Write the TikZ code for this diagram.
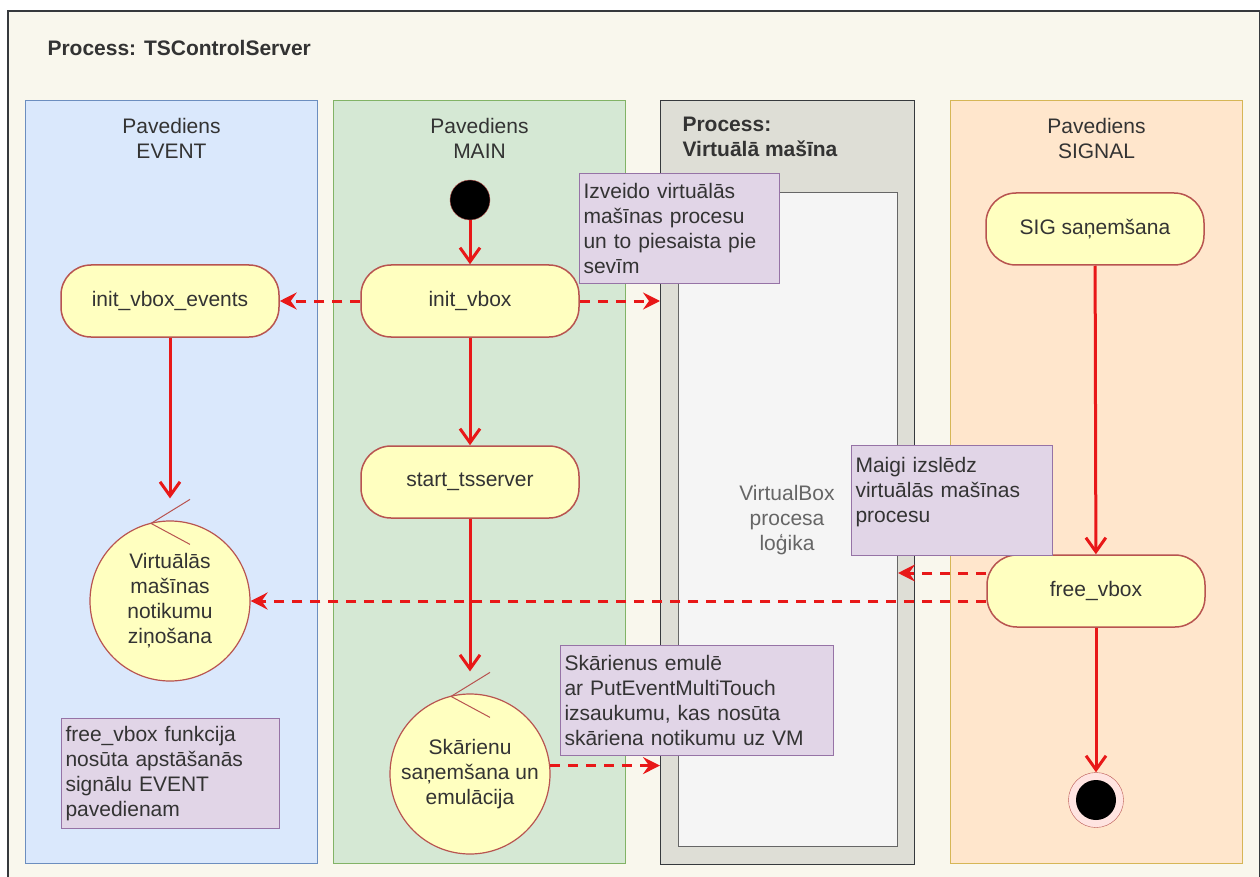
\documentclass[tikz,border=0pt]{standalone}
\usepackage{fontspec}
\setmainfont{Liberation Sans}
\usetikzlibrary{arrows.meta}

\definecolor{bgfill}{HTML}{F9F7ED}
\definecolor{frame}{HTML}{36393D}
\definecolor{evfill}{HTML}{DAE8FC}
\definecolor{evdraw}{HTML}{6C8EBF}
\definecolor{mainfill}{HTML}{D5E8D4}
\definecolor{maindraw}{HTML}{82B366}
\definecolor{sigfill}{HTML}{FFE6CC}
\definecolor{sigdraw}{HTML}{D6B656}
\definecolor{vmfill}{HTML}{DEDED6}
\definecolor{vminner}{HTML}{F5F5F5}
\definecolor{vmindraw}{HTML}{666666}
\definecolor{actfill}{HTML}{FFFFC0}
\definecolor{actdraw}{HTML}{B85450}
\definecolor{notefill}{HTML}{E1D5E7}
\definecolor{notedraw}{HTML}{9673A6}
\definecolor{flowred}{HTML}{E81818}
\definecolor{endring}{HTML}{FFE4E1}
\definecolor{txt}{HTML}{333333}

\def\lanew{292pt}

\begin{document}
\begin{tikzpicture}[x=1pt,y=-1pt,font=\fontsize{21}{25}\selectfont,text=txt]
    \tikzstyle{lane}=[rectangle, anchor=north west, inner sep=0pt, line width=1pt]
    \tikzstyle{action}=[rectangle, rounded corners=30pt, fill=actfill, draw=actdraw, line width=1.5pt, minimum width=218pt, minimum height=72pt]
    \tikzstyle{event}=[circle, fill=actfill, draw=actdraw, line width=1.2pt, minimum size=160pt, inner sep=0pt, align=center]
    \tikzstyle{note}=[rectangle, anchor=north west, fill=notefill, draw=notedraw, line width=1pt, align=left, inner xsep=4pt, inner ysep=6pt, minimum height=110pt]
    \tikzstyle{notch}=[draw=actdraw, line width=1pt]
    \tikzstyle{flow}=[draw=flowred, line width=3pt, -{Straight Barb[length=14pt,width=20pt,line width=3pt]}]
    \tikzstyle{signal}=[draw=flowred, line width=3pt, dash pattern=on 10pt off 8pt, -{Stealth[length=17pt,width=17pt,inset=6pt]}]

    \useasboundingbox (0,0) rectangle (1260,877);

    %%% DRAW THE LANES
    \node[lane, fill=bgfill, draw=frame, line width=2pt, minimum width=1252pt, minimum height=900pt] (P-0) at (7,10) {};
    \node[anchor=west, font=\fontsize{21}{25}\selectfont\bfseries] (title) at (44,48) {Process: TSControlServer};

    \foreach \name/\x/\fc/\dc/\ttl in {event/25/evfill/evdraw/EVENT, main/333/mainfill/maindraw/MAIN, signal/950/sigfill/sigdraw/SIGNAL}
    {
        \node[lane, fill=\fc, draw=\dc, minimum width=\lanew, minimum height=763pt] (L-\name) at (\x,100) {};
        \node[align=center] (T-\name) at ([yshift=-38pt]L-\name.north) {Pavediens\\\ttl};
    }

    \node[lane, fill=vmfill, draw=frame, minimum width=254pt, minimum height=764pt] (L-vm) at (660,100) {};
    \node[lane, fill=vminner, draw=vmindraw, minimum width=219pt, minimum height=654pt] (L-vmin) at (678,192) {};
    \node[anchor=north west, align=left, font=\fontsize{21}{25}\selectfont\bfseries] (T-vm) at (679,114) {Process:\\Virtuālā mašīna};
    \node[align=center, text=vmindraw] (vbtext) at (787,520) {VirtualBox\\procesa\\loģika};

    %%% DRAW THE NODES
    \node[circle, fill=black, draw=actdraw, minimum size=40pt, inner sep=0pt] (start) at (470,200) {};
    \node[action] (init) at (470,301) {init\_vbox};
    \node[action] (evinit) at (170,301) {init\_vbox\_events};
    \node[action] (tss) at (470,482) {start\_tsserver};
    \node[action] (sig) at (1095,229) {SIG saņemšana};
    \node[action] (free) at (1096,591) {free\_vbox};
    \node[circle, fill=endring, draw=actdraw, minimum size=55pt, inner sep=0pt] (end) at (1096,800) {};
    \node[circle, fill=black, minimum size=40pt, inner sep=0pt] (end-in) at (end) {};

    \node[event] (virt) at (170,601) {Virtuālās\\mašīnas\\notikumu\\ziņošana};
    \node[event] (skar) at (470,774) {Skārienu\\saņemšana un\\emulācija};

    \foreach \ev in {virt,skar}
        \draw[notch] ([shift={(20pt,21pt)}]\ev.north) -- ([shift={(-19pt,-3pt)}]\ev.north) -- ([shift={(20pt,-24pt)}]\ev.north);

    %%% DRAW THE PATHS
    \draw[flow] (start) -- (init);
    \draw[flow] (init) -- (tss);
    \draw[flow, shorten >=22pt] (tss) -- (skar.north);
    \draw[flow, shorten >=22pt] (evinit) -- (virt.north);
    \draw[flow] (sig) -- (free);
    \draw[flow] (free) -- (end);

    \draw[signal] (init.west) -- (evinit.east);
    \draw[signal] (init.east) -- (init.east -| L-vm.west);
    \draw[signal] (skar.6) -- (skar.6 -| L-vm.west);
    \draw[signal] ([yshift=18pt]free.west) -- ([yshift=18pt]free.west -| L-vmin.east);
    \draw[signal] ([yshift=-10pt]free.west) -- (virt.east);

    %%% ANOTATE
    \node[note, text width=192pt] (N-1) at (579,173) {Izveido virtuālās\\mašīnas procesu\\un to piesaista pie\\sevīm};
    \node[note, text width=193pt, text depth=72pt] (N-2) at (851,445) {Maigi izslēdz\\virtuālās mašīnas\\procesu};
    \node[note, text width=265pt] (N-3) at (560,645) {Skārienus emulē\\ar PutEventMultiTouch\\izsaukumu, kas nosūta\\skāriena notikumu uz VM};
    \node[note, text width=210pt] (N-4) at (61,718) {free\_vbox funkcija\\nosūta apstāšanās\\signālu EVENT\\pavedienam};

\end{tikzpicture}
\end{document}
